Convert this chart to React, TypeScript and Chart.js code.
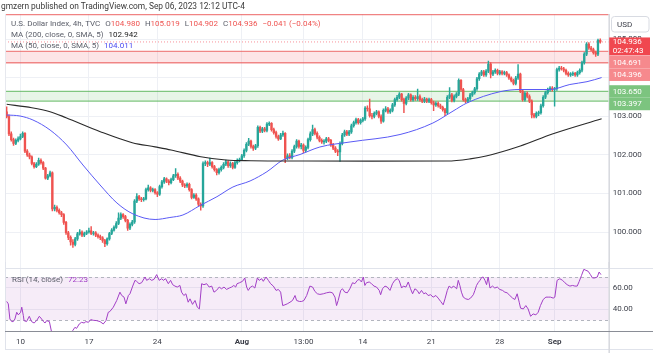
import { useEffect, useRef } from 'react';
import { Chart, registerables } from 'chart.js';
Chart.register(...registerables);

const FONT = 'Roboto, "Liberation Sans", Arial, sans-serif';

// ---------- data ----------
const firstOpen = 103.12;
const closes = [
  103.00,102.55,102.40,102.30,102.38,102.42,102.48,102.56,102.10,102.00,
  101.95,101.78,101.70,101.76,101.86,101.80,101.66,101.40,101.46,101.54,
  100.60,100.64,100.56,100.50,100.45,100.25,99.98,99.86,99.74,99.68,
  99.82,99.95,100.00,99.92,99.96,100.00,100.03,99.96,99.98,99.92,
  99.88,99.85,99.78,99.70,99.82,99.96,100.05,100.12,100.22,100.36,
  100.45,100.40,100.30,100.10,100.20,100.26,100.80,100.92,100.86,100.84,
  100.86,101.10,101.15,101.08,101.10,101.02,100.98,101.18,101.30,101.38,
  101.32,101.28,101.36,101.46,101.50,101.40,101.32,101.22,101.20,101.24,
  101.10,100.90,100.96,100.86,100.72,100.68,101.78,101.80,101.76,101.80,
  101.70,101.62,101.54,101.62,101.68,101.76,101.82,101.72,101.78,101.68,
  101.80,101.86,101.88,101.98,102.12,102.28,102.36,102.22,102.18,102.24,
  102.72,102.62,102.68,102.64,102.80,102.82,102.66,102.58,102.48,102.42,
  102.52,102.56,101.92,101.98,101.94,102.10,102.22,102.36,102.22,102.26,
  102.12,102.20,102.40,102.55,102.66,102.56,102.46,102.38,102.34,102.36,
  102.42,102.38,102.26,102.18,102.10,102.08,102.30,102.52,102.60,102.54,
  102.60,102.76,102.84,102.92,102.84,102.90,102.94,103.22,103.20,103.02,
  103.00,103.08,103.12,103.00,102.88,103.16,103.20,103.12,103.16,103.30,
  103.44,103.50,103.58,103.44,103.34,103.48,103.56,103.44,103.50,103.46,
  103.52,103.44,103.40,103.45,103.40,103.44,103.36,103.30,103.34,103.28,
  103.24,103.18,103.10,103.50,103.56,103.42,103.52,103.58,103.94,103.70,
  103.44,103.40,103.46,103.56,103.62,103.72,103.98,104.10,104.16,104.08,
  104.18,104.36,104.10,104.16,104.20,104.12,104.16,104.12,104.14,104.08,
  104.00,103.94,103.86,104.00,104.10,103.66,103.44,103.60,103.52,103.40,
  103.04,103.00,103.08,103.10,103.28,103.50,103.62,103.70,103.74,103.70,
  103.72,104.22,104.26,104.24,104.20,104.12,104.08,104.10,104.12,104.08,
  104.14,104.20,104.40,104.62,104.88,104.78,104.74,104.66,104.62,104.98,
  104.936,
];
const highs = [
  103.25,103.04,102.60,102.44,102.42,102.47,102.54,102.60,102.58,102.14,
  102.05,101.98,101.81,101.80,101.92,101.90,101.83,101.68,101.50,101.58,
  101.56,100.70,100.68,100.60,100.54,100.48,100.28,100.02,99.90,99.80,
  99.86,99.99,100.06,100.03,100.00,100.04,100.10,100.14,100.02,100.01,
  99.95,99.92,99.88,99.81,99.85,99.99,100.09,100.16,100.27,100.50,
  100.50,100.48,100.43,100.33,100.24,100.30,100.84,101.00,100.95,100.90,
  100.90,101.14,101.22,101.18,101.14,101.13,101.05,101.22,101.34,101.42,
  101.41,101.36,101.40,101.50,101.65,101.54,101.44,101.35,101.26,101.28,
  101.27,101.13,101.00,101.00,100.89,100.76,101.82,101.85,101.84,101.92,
  101.83,101.73,101.65,101.66,101.72,101.80,101.87,101.85,101.82,101.81,
  101.84,101.90,101.92,102.02,102.16,102.32,102.43,102.39,102.26,102.28,
  102.76,102.75,102.72,102.72,102.84,102.86,102.84,102.70,102.62,102.52,
  102.56,102.62,102.58,102.03,102.04,102.14,102.26,102.40,102.39,102.30,
  102.29,102.24,102.44,102.60,102.78,102.70,102.60,102.50,102.42,102.40,
  102.46,102.46,102.41,102.30,102.22,102.14,102.34,102.56,102.65,102.64,
  102.64,102.80,102.88,102.96,102.95,102.94,102.98,103.26,103.28,103.45,
  103.08,103.12,103.16,103.15,103.04,103.20,103.26,103.24,103.20,103.34,
  103.48,103.55,103.62,103.60,103.48,103.52,103.60,103.59,103.54,103.54,
  103.71,103.56,103.48,103.50,103.48,103.48,103.47,103.40,103.38,103.38,
  103.32,103.27,103.21,103.54,103.75,103.60,103.56,103.62,103.98,103.96,
  103.73,103.48,103.50,103.60,103.66,103.76,104.02,104.14,104.20,104.20,
  104.22,104.44,104.40,104.20,104.24,104.23,104.20,104.19,104.18,104.17,
  104.11,104.03,103.97,104.04,104.35,104.13,103.69,103.64,103.64,103.56,
  103.43,103.08,103.12,103.14,103.32,103.54,103.66,103.74,103.78,103.78,
  103.76,104.26,104.30,104.30,104.28,104.23,104.16,104.14,104.16,104.15,
  104.18,104.24,104.44,104.66,104.92,104.92,104.82,104.78,104.70,105.01,
  105.019,
];
const lows = [
  102.96,102.50,102.36,102.25,102.27,102.34,102.39,102.45,102.06,101.96,
  101.90,101.74,101.66,101.67,101.73,101.76,101.62,101.37,101.36,101.43,
  100.55,100.55,100.52,100.46,100.40,100.20,99.94,99.80,99.66,99.60,
  99.64,99.78,99.92,99.88,99.88,99.93,99.97,99.93,99.92,99.88,
  99.84,99.80,99.73,99.62,99.66,99.79,99.93,100.02,100.09,100.19,
  100.32,100.35,100.26,100.04,100.06,100.16,100.22,100.76,100.82,100.79,
  100.80,100.83,101.06,101.04,101.04,100.98,100.92,100.95,101.14,101.26,
  101.28,101.22,101.25,101.33,101.42,101.36,101.28,101.18,101.15,101.16,
  101.06,100.86,100.87,100.82,100.68,100.57,100.64,101.72,101.70,101.72,
  101.66,101.58,101.48,101.50,101.58,101.64,101.72,101.68,101.68,101.64,
  101.65,101.76,101.82,101.85,101.94,102.08,102.24,102.18,102.12,102.14,
  102.20,102.58,102.58,102.60,102.60,102.76,102.62,102.54,102.44,102.38,
  102.40,102.48,101.80,101.88,101.90,101.90,102.06,102.18,102.18,102.16,
  102.06,102.08,102.16,102.36,102.50,102.52,102.42,102.34,102.30,102.28,
  102.32,102.34,102.22,102.14,102.06,101.98,101.83,102.26,102.48,102.50,
  102.50,102.56,102.72,102.80,102.80,102.80,102.86,102.90,103.14,102.98,
  102.94,102.96,103.04,102.96,102.82,102.85,103.12,103.08,103.08,103.12,
  103.26,103.40,103.46,103.40,103.10,103.30,103.44,103.40,103.40,103.42,
  103.42,103.40,103.36,103.36,103.36,103.36,103.32,103.15,103.26,103.24,
  103.20,103.14,103.02,103.06,103.46,103.38,103.38,103.48,103.54,103.66,
  103.40,103.36,103.36,103.42,103.52,103.58,103.68,103.94,104.06,104.04,
  104.04,104.14,104.00,104.06,104.12,104.08,104.08,104.08,104.08,104.04,
  103.96,103.90,103.82,103.82,103.96,103.62,103.40,103.40,103.48,103.36,
  102.96,102.96,102.96,103.02,103.06,103.24,103.46,103.58,103.66,103.66,
  103.27,103.68,104.18,104.20,104.16,104.08,104.04,104.04,104.06,104.04,
  104.04,104.10,104.16,104.36,104.58,104.74,104.70,104.62,104.56,104.58,
  104.902,
];

// moving averages: [bar index, value]
const ma200 = [
  [0,103.317],[11,103.229],[19,103.125],[26,102.969],[41,102.605],[55,102.32],[65,102.21],
  [72,102.13],[85,101.956],[96,101.87],[107,101.852],[131,101.844],[160,101.84],[193,101.844],
  [203,101.9],[210,101.974],[225,102.234],[239,102.545],[260.6,102.942],
];
const ma50 = [
  [0,103.039],[5.8,103.013],[11.5,102.909],[19,102.649],[26.3,102.26],[33.4,101.74],[40.9,101.221],
  [48.3,100.753],[55.3,100.47],[65,100.325],[71.5,100.377],[77.2,100.442],[84.7,100.688],
  [92.1,100.917],[99.1,101.169],[106.6,101.325],[114,101.566],[121,101.87],[128.5,102.013],
  [137.2,102.208],[150.4,102.338],[172.3,102.532],[186.7,102.831],[195.5,103.14],[201.6,103.351],
  [216.1,103.644],[224.8,103.701],[238,103.701],[246.7,103.831],[254.2,103.904],[260.6,104.011],
];
// RSI (14): [bar index, value]
const rsi = [
  [0,47.4],[0.7,45.2],[1.4,31.2],[2.2,28.8],[2.9,28.8],[3.6,31.2],[4.4,37.4],[5.1,35.0],[6.1,37.4],
  [6.6,42.1],[7.3,34.3],[7.6,29.7],[8.7,28.8],[9.9,33.7],[10.9,28.8],[12,27.5],[13.1,29.7],[14.3,33.7],
  [15.3,31.2],[16.1,28.8],[16.8,27.5],[17.5,29.7],[18.7,28.8],[19.7,18.8],[21,16.5],[23,15.5],[25,13],
  [27,11],[28.9,20.4],[29.9,23.5],[30.6,22.5],[31.8,26.6],[32.8,28.1],[33.9,27.5],[34.7,28.8],[35.8,28.1],
  [36.8,30.6],[37.9,30.0],[39.4,29.7],[40.9,28.8],[42.3,26.6],[43.5,29.7],[44.5,37.4],[45.2,38.1],
  [46.7,42.1],[48.2,48.3],[49.6,56.0],[50.4,52.9],[51.4,51.4],[52.2,45.2],[53.3,52.9],[54,54.5],
  [55.2,61.6],[56.2,66.9],[56.9,66.0],[58,63.8],[59.1,64.7],[60.6,70.0],[61.3,66.9],[62.5,68.4],
  [63.5,66.9],[64.5,67.8],[65.7,72.2],[66.8,66.9],[67.9,68.4],[68.6,66.9],[69.6,68.4],[70.8,63.8],
  [71.8,66.9],[72.7,62.9],[73.7,61.6],[74.7,60.7],[75.9,62.2],[76.6,56.0],[77.6,52.9],[78.5,54.5],
  [79.5,46.7],[80.3,49.8],[81.4,44.7],[82.5,48.3],[83.5,42.1],[84.4,40.5],[85.4,63.8],[86.4,62.9],
  [87.6,63.8],[88.7,60.7],[89.8,61.6],[90.8,56.0],[91.9,57.6],[93.1,60.7],[94.1,59.1],[95.2,60.7],
  [96.3,58.5],[97.5,59.8],[98.5,60.7],[99.5,62.2],[100.3,60.7],[100.9,63.8],[102,64.7],[103.3,66.0],
  [104.3,69.1],[105.1,60.7],[105.8,57.6],[106.8,60.7],[107.7,61.6],[108.7,59.8],[109.8,69.1],
  [110.6,66.9],[111.7,68.4],[112.4,66.0],[113.6,70.0],[114.6,66.9],[115.6,63.8],[116.8,61.6],
  [118,57.6],[119,58.5],[120,56.0],[120.9,43.6],[121.9,44.3],[122.9,45.2],[124.1,46.7],[125.2,48.3],
  [126.3,52.9],[127,48.3],[128.2,47.4],[129.2,47.4],[130.2,48.3],[131.4,52.9],[132.8,61.6],[134,60.7],
  [135,56.7],[136.1,54.5],[137.2,53.9],[138.7,54.5],[140.1,55.4],[141.6,56.0],[142.7,55.4],[143.8,51.4],
  [144.5,43.6],[145.2,48.3],[146.3,57.6],[147.1,59.1],[148.1,56.0],[149.2,55.4],[150.3,59.1],
  [151.5,64.7],[152.5,63.8],[153.6,66.9],[154.4,67.8],[155.4,65.4],[156.2,70.0],[156.9,62.2],
  [157.6,64.7],[158.8,65.4],[159.8,63.8],[160.9,61.6],[162,60.7],[163.2,57.6],[163.8,53.6],[164.6,59.1],
  [165.7,61.6],[166.7,60.7],[167.9,57.6],[169,63.8],[170,66.9],[171.1,68.4],[171.9,66.9],[173,59.8],
  [173.7,61.6],[174.9,60.7],[175.9,65.4],[176.9,59.1],[177.8,54.5],[178.8,59.1],[179.8,57.6],
  [180.7,54.5],[181.7,57.6],[182.7,54.5],[183.6,55.4],[184.6,52.9],[185.7,53.6],[186.8,51.4],[188,52.9],
  [189,50.5],[190.1,47.4],[191.2,44.3],[192,49.8],[193,57.6],[193.8,61.6],[194.9,59.8],[195.6,61.6],
  [196.3,60.7],[197.1,59.1],[197.8,66.9],[198.5,62.2],[199.2,56.0],[200,51.4],[201.1,49.8],[202.2,49.2],
  [203.2,50.5],[204.4,53.6],[205.1,57.6],[205.8,62.2],[206.5,64.7],[207.3,66.9],[208,69.4],[208.7,70.0],
  [209.5,66.9],[210.2,62.9],[210.9,70.0],[211.7,59.8],[212.8,61.6],[213.8,59.8],[214.9,60.7],[216,58.5],
  [217.2,57.6],[218.2,56.0],[219.2,55.4],[220.4,52.9],[221.6,50.5],[222.6,49.2],[223.6,54.5],
  [224.5,46.7],[225.1,41.2],[226.3,40.5],[227.4,43.6],[228.4,40.5],[229.5,33.7],[230.6,35.9],
  [231.8,35.0],[232.8,37.4],[233.8,43.6],[235,49.2],[236.2,51.4],[237.2,51.4],[238.2,51.4],[239.4,50.5],
  [240.1,51.4],[241.1,66.9],[242.3,68.4],[243.5,66.9],[244.5,64.7],[245.5,62.9],[246.7,61.6],
  [247.9,62.2],[248.9,61.6],[249.9,61.6],[250.8,66.0],[251.8,71.5],[252.8,77.1],[253.7,76.2],
  [254.7,75.3],[255.7,72.2],[256.6,69.1],[257.6,69.1],[258.7,70.0],[259.5,74.6],[260.3,72.23],
];

const timeTicks = [6, 36, 66, 103, 130, 156, 186, 216, 240];
const timeLabels = ['10', '17', '24', 'Aug', '13:00', '14', '21', '28', 'Sep'];
const boldLabels = ['Aug', 'Sep'];
const priceTicks = [100, 101, 102, 103, 104, 105];
const rsiTicks = [40, 60];
const redZone = [104.396, 104.691];
const greenZone = [103.397, 103.650];
const lastClose = 104.936;
const ohlcLegend = ['104.980', '105.019', '104.902', '104.936'];
const changeText = '\u22120.041 (\u22120.04%)';
const ma200Last = '102.942';
const ma50Last = '104.011';
const rsiLast = '72.23';
const countdown = '02:47:43';

// ---------- layout constants ----------
const X_MIN = -0.74;
const X_MAX = 263.7;
const AXIS_W = 44.3;
const UP = '#26a69a';
const DOWN = '#ef5350';
const GRID = '#eef0f5';
const TXT = '#3b3e48';
const LEG = '#5d606b';

function text(ctx: CanvasRenderingContext2D, s: string, x: number, y: number, color: string, size = 8, weight = 'normal') {
  ctx.font = `${weight} ${size}px ${FONT}`;
  ctx.fillStyle = color;
  ctx.textAlign = 'left';
  ctx.textBaseline = 'middle';
  ctx.fillText(s, x, y);
  return ctx.measureText(s).width;
}

const noPad = (s: any) => { s.paddingTop = 0; s.paddingBottom = 0; s.paddingLeft = 0; s.paddingRight = 0; };

const mainDecor = {
  id: 'mainDecor',
  beforeDatasetsDraw(chart: any) {
    const { ctx, chartArea: a, scales } = chart;
    const y = scales.y;
    ctx.save();
    const zone = (lo: number, hi: number, fill: string, stroke: string) => {
      const y1 = y.getPixelForValue(hi);
      const y2 = y.getPixelForValue(lo);
      ctx.fillStyle = fill;
      ctx.fillRect(a.left, y1, a.right - a.left, y2 - y1);
      ctx.strokeStyle = stroke;
      ctx.lineWidth = 1.3;
      ctx.beginPath();
      ctx.moveTo(a.left, y1); ctx.lineTo(a.right, y1);
      ctx.moveTo(a.left, y2); ctx.lineTo(a.right, y2);
      ctx.stroke();
    };
    zone(redZone[0], redZone[1], 'rgba(242,54,69,0.13)', 'rgba(235,90,90,0.7)');
    zone(greenZone[0], greenZone[1], 'rgba(76,175,80,0.13)', 'rgba(90,180,90,0.75)');
    // top red line
    ctx.strokeStyle = 'rgba(235,90,90,0.75)';
    ctx.lineWidth = 1.3;
    ctx.beginPath();
    ctx.moveTo(a.left, a.top + 0.7); ctx.lineTo(a.right, a.top + 0.7);
    ctx.stroke();
    // dotted last price line
    const yl = y.getPixelForValue(lastClose);
    ctx.strokeStyle = 'rgba(242,54,69,0.55)';
    ctx.lineWidth = 1;
    ctx.setLineDash([1, 2]);
    ctx.beginPath();
    ctx.moveTo(a.left, yl); ctx.lineTo(a.right, yl);
    ctx.stroke();
    ctx.restore();
  },
  afterDraw(chart: any) {
    const { ctx, chartArea: a, scales } = chart;
    const y = scales.y;
    ctx.save();
    // frame lines
    ctx.strokeStyle = '#d6d8de';
    ctx.lineWidth = 1.5;
    ctx.beginPath();
    ctx.moveTo(a.right + 0.5, a.top); ctx.lineTo(a.right + 0.5, chart.height);
    ctx.stroke();
    ctx.strokeStyle = '#e6e8ee';
    ctx.lineWidth = 1;
    ctx.beginPath();
    ctx.moveTo(a.left + 0.5, a.top); ctx.lineTo(a.left + 0.5, chart.height);
    ctx.stroke();

    // header
    text(ctx, 'gmzern published on TradingView.com, Sep 06, 2023 12:12 UTC-4', 1, 7, '#3a3a3a', 8.4);
    // legends
    let x = 11;
    x += text(ctx, 'U.S. Dollar Index, 4h, TVC', x, 24, LEG) + 5;
    const letters = ['O', 'H', 'L', 'C'];
    letters.forEach((l, i) => {
      x += text(ctx, l, x, 24, LEG);
      x += text(ctx, ohlcLegend[i], x, 24, DOWN) + 5;
    });
    text(ctx, changeText, x, 24, DOWN);
    let x2 = 11;
    x2 += text(ctx, 'MA (200, close, 0, SMA, 5)', x2, 35, LEG) + 5;
    text(ctx, ma200Last, x2, 35, '#222222');
    let x3 = 11;
    x3 += text(ctx, 'MA (50, close, 0, SMA, 5)', x3, 46, LEG) + 5;
    text(ctx, ma50Last, x3, 46, '#4a4af0');

    // axis labels
    const bx = a.right + 0.5;
    const bw = chart.width - 3 - bx;
    const box = (top: number, h: number, color: string) => {
      ctx.fillStyle = color;
      ctx.fillRect(bx, top, bw, h);
    };
    ctx.strokeStyle = '#d8dbe2';
    ctx.lineWidth = 1;
    ctx.beginPath();
    (ctx as any).roundRect ? (ctx as any).roundRect(611.5, 16.5, 37.5, 15.5, 3) : ctx.rect(611.5, 16.5, 37.5, 15.5);
    ctx.stroke();
    text(ctx, 'USD', 617, 24.5, TXT);

    const lx = bx + 3.5;
    const yl = y.getPixelForValue(lastClose);
    const lastTop = yl - 4.5;
    box(lastTop, 18, '#f0474f');
    text(ctx, lastClose.toFixed(3), lx, lastTop + 5, '#ffffff');
    text(ctx, countdown, lx, lastTop + 13.5, '#ffffff');
    const H = 12.5;
    const t1 = Math.max(y.getPixelForValue(redZone[1]) - H / 2, lastTop + 18.5);
    box(t1, H, '#f6898d');
    text(ctx, redZone[1].toFixed(3), lx, t1 + H / 2 + 0.3, '#ffffff');
    const t2 = Math.max(y.getPixelForValue(redZone[0]) - H / 2, t1 + H);
    box(t2, H, '#f6898d');
    text(ctx, redZone[0].toFixed(3), lx, t2 + H / 2 + 0.3, '#ffffff');
    const t3 = Math.max(y.getPixelForValue(greenZone[1]) - H / 2, t2 + H + 1);
    box(t3, H, '#7cc47f');
    text(ctx, greenZone[1].toFixed(3), lx, t3 + H / 2 + 0.3, '#ffffff');
    const t4 = Math.max(y.getPixelForValue(greenZone[0]) - H / 2, t3 + H);
    box(t4, H, '#7cc47f');
    text(ctx, greenZone[0].toFixed(3), lx, t4 + H / 2 + 0.3, '#ffffff');
    ctx.restore();
  },
};

const rsiDecor = {
  id: 'rsiDecor',
  beforeDatasetsDraw(chart: any) {
    const { ctx, chartArea: a, scales } = chart;
    const y = scales.y;
    const y70 = y.getPixelForValue(70);
    const y30 = y.getPixelForValue(30);
    ctx.save();
    ctx.fillStyle = 'rgba(156,39,176,0.09)';
    ctx.fillRect(a.left, y70, a.right - a.left, y30 - y70);
    ctx.strokeStyle = '#b2b5be';
    ctx.lineWidth = 1;
    ctx.setLineDash([3, 3]);
    ctx.beginPath();
    ctx.moveTo(a.left, Math.round(y70) + 0.5); ctx.lineTo(a.right, Math.round(y70) + 0.5);
    ctx.moveTo(a.left, Math.round(y30) + 0.5); ctx.lineTo(a.right, Math.round(y30) + 0.5);
    ctx.stroke();
    ctx.restore();
  },
  afterDraw(chart: any) {
    const { ctx, chartArea: a } = chart;
    ctx.save();
    ctx.strokeStyle = '#e0e3eb';
    ctx.lineWidth = 1;
    ctx.beginPath();
    ctx.moveTo(a.left, a.top - 0.5); ctx.lineTo(chart.width, a.top - 0.5);
    ctx.moveTo(a.left, chart.height - 3.5); ctx.lineTo(chart.width, chart.height - 3.5);
    ctx.moveTo(a.left + 0.5, 0); ctx.lineTo(a.left + 0.5, chart.height - 3.5);
    ctx.stroke();
    ctx.strokeStyle = '#d6d8de';
    ctx.lineWidth = 1.5;
    ctx.beginPath();
    ctx.moveTo(a.right + 0.5, 0); ctx.lineTo(a.right + 0.5, chart.height);
    ctx.stroke();
    ctx.strokeStyle = '#8a8d96';
    ctx.lineWidth = 1;
    ctx.beginPath();
    ctx.moveTo(a.left, a.bottom + 0.5); ctx.lineTo(chart.width, a.bottom + 0.5);
    ctx.stroke();
    let x = 12;
    x += text(ctx, 'RSI (14, close)', x, 17.5, LEG) + 5;
    text(ctx, rsiLast, x, 17.5, '#a23fc6');
    ctx.restore();
  },
};

export default function App() {
  const mainRef = useRef<HTMLCanvasElement>(null);
  const rsiRef = useRef<HTMLCanvasElement>(null);

  useEffect(() => {
    const opens = closes.map((c, i) => (i === 0 ? firstOpen : closes[i - 1]));
    const colors = closes.map((c, i) => (c >= opens[i] ? UP : DOWN));
    const xScaleBase = {
      type: 'linear' as const,
      min: X_MIN,
      max: X_MAX,
      offset: false,
      grid: { color: GRID, drawTicks: false, offset: false },
      border: { display: false },
      afterBuildTicks: (s: any) => { s.ticks = timeTicks.map((v) => ({ value: v })); },
    };

    const main = new Chart(mainRef.current as HTMLCanvasElement, {
      type: 'bar',
      data: {
        datasets: [
          {
            type: 'line', data: ma200.map(([x, y]) => ({ x, y })), borderColor: '#2a2a2a', borderWidth: 1.1,
            pointRadius: 0, cubicInterpolationMode: 'monotone', order: 0,
          } as any,
          {
            type: 'line', data: ma50.map(([x, y]) => ({ x, y })), borderColor: '#5a5af5', borderWidth: 1,
            pointRadius: 0, cubicInterpolationMode: 'monotone', order: 0,
          } as any,
          {
            type: 'bar', data: closes.map((c, i) => ({ x: i, y: [opens[i], c] })), backgroundColor: colors,
            barThickness: 1.7, grouped: false, order: 1, minBarLength: 0.6,
          } as any,
          {
            type: 'bar', data: closes.map((c, i) => ({ x: i, y: [lows[i], highs[i]] })), backgroundColor: colors,
            barThickness: 0.8, grouped: false, order: 2,
          } as any,
        ],
      },
      options: {
        responsive: false,
        animation: false,
        events: [],
        layout: { padding: { left: 5, top: 14, right: 0, bottom: 1 } },
        plugins: { legend: { display: false }, tooltip: { enabled: false } },
        scales: {
          x: { ...xScaleBase, ticks: { display: false }, afterFit: (s: any) => { s.height = 0; noPad(s); } },
          y: {
            type: 'linear', position: 'right', min: 99.065, max: 105.662, beginAtZero: false,
            grid: { color: GRID, drawTicks: false }, border: { display: false },
            ticks: { padding: 4, color: TXT, font: { family: FONT, size: 8 }, callback: (v: any) => Number(v).toFixed(3) },
            afterBuildTicks: (s: any) => { s.ticks = priceTicks.map((v) => ({ value: v })); },
            afterFit: (s: any) => { s.width = AXIS_W; noPad(s); },
          },
        },
      } as any,
      plugins: [mainDecor],
    });

    const rsiChart = new Chart(rsiRef.current as HTMLCanvasElement, {
      type: 'line',
      data: {
        datasets: [
          {
            data: rsi.map(([x, y]) => ({ x, y })), borderColor: '#a23fc6', borderWidth: 1,
            pointRadius: 0, tension: 0,
          },
        ],
      },
      options: {
        responsive: false,
        animation: false,
        events: [],
        layout: { padding: { left: 5, top: 7, right: 0, bottom: 0 } },
        plugins: { legend: { display: false }, tooltip: { enabled: false } },
        scales: {
          x: {
            ...xScaleBase,
            ticks: {
              padding: 6, color: TXT, maxRotation: 0, autoSkip: false,
              font: (c: any) => ({ family: FONT, size: 8, weight: boldLabels.includes(timeLabels[c.index]) ? 'bold' : 'normal' }),
              callback: (_v: any, i: number) => timeLabels[i],
            },
            afterFit: (s: any) => { s.height = 22; noPad(s); },
          },
          y: {
            type: 'linear', position: 'right', min: 20.1, max: 77.39,
            grid: { color: GRID, drawTicks: false }, border: { display: false },
            ticks: { padding: 4, color: TXT, font: { family: FONT, size: 8 }, callback: (v: any) => Number(v).toFixed(2) },
            afterBuildTicks: (s: any) => { s.ticks = rsiTicks.map((v) => ({ value: v })); },
            afterFit: (s: any) => { s.width = AXIS_W; noPad(s); },
          },
        },
      } as any,
      plugins: [rsiDecor],
    });

    return () => { main.destroy(); rsiChart.destroy(); };
  }, []);

  return (
    <div style={{ position: 'absolute', left: 0, top: 0, width: 653, height: 353, background: '#ffffff', overflow: 'hidden' }}>
      <canvas ref={mainRef} width={653} height={269} style={{ position: 'absolute', left: 0, top: 0 }} />
      <canvas ref={rsiRef} width={653} height={91} style={{ position: 'absolute', left: 0, top: 262 }} />
    </div>
  );
}
